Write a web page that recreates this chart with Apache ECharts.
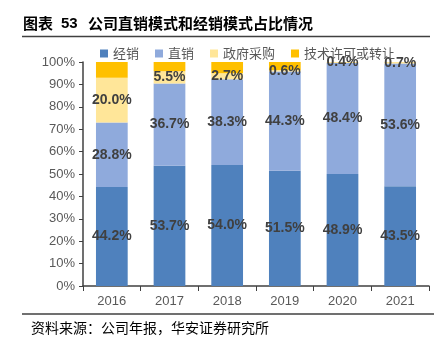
<!DOCTYPE html>
<html><head><meta charset="utf-8">
<script src="https://cdn.jsdelivr.net/npm/echarts@6/dist/echarts.min.js"></script>
<style>html,body{margin:0;padding:0;background:#fff}#c{width:434px;height:341px}</style>
</head><body><div id="c"></div>
<script>
const years = ['2016','2017','2018','2019','2020','2021'];
const distribution = [44.2, 53.7, 54.0, 51.5, 48.9, 43.5];   // 经销
const direct = [28.8, 36.7, 38.3, 44.3, 48.4, 53.6];         // 直销
const government = [20.0, 5.5, 2.7, 0.6, 0.4, 0.7];         // 政府采购
const licensing = [7.0, 4.1, 5.0, 3.6, 0, 0];                // 技术许可或转让
const yTicks = ['0%','10%','20%','30%','40%','50%','60%','70%','80%','90%','100%'];

const totals = years.map((_, i) => distribution[i] + direct[i] + government[i] + licensing[i]);
const norm = arr => arr.map((v, i) => ({ value: v / totals[i] * 100, raw: v }));

const labelStyle = {
  show: true, position: 'inside', fontFamily: 'Liberation Sans, Arial, sans-serif',
  fontSize: 14, fontWeight: 'bold', color: '#404040',
  formatter: p => p.data.raw.toFixed(1) + '%'
};
const mk = (name, arr, color, showLabel) => ({
  name, type: 'bar', stack: 'a', barWidth: '55%', data: norm(arr),
  itemStyle: { color }, label: showLabel ? labelStyle : { show: false },
  emphasis: { disabled: true }, labelLayout: { hideOverlap: false }
});

const titleFont = 'bold 15px "Noto Sans CJK SC", sans-serif';
const chart = echarts.init(document.getElementById('c'), null, { renderer: 'canvas' });
chart.setOption({
  animation: false,
  graphic: [
    { type: 'text', left: 23, top: 16, style: { text: '图表', font: titleFont, fill: '#000' } },
    { type: 'text', left: 61, top: 16, style: { text: '53', font: 'bold 15px "Liberation Sans", Arial, sans-serif', fill: '#000' } },
    { type: 'text', left: 88, top: 16, style: { text: '公司直销模式和经销模式占比情况', font: titleFont, fill: '#000' } },
    { type: 'line', shape: { x1: 22, y1: 36.5, x2: 430, y2: 36.5 }, style: { stroke: '#404040', lineWidth: 1.5 } },
    { type: 'line', shape: { x1: 22, y1: 314, x2: 434, y2: 314 }, style: { stroke: '#404040', lineWidth: 1.5 } },
    { type: 'text', left: 31, top: 321, style: { text: '资料来源：公司年报，华安证券研究所', font: '14px "Noto Sans CJK SC", sans-serif', fill: '#000' } }
  ],
  legend: {
    top: 42, left: 95, itemWidth: 8, itemHeight: 8, itemGap: 16, icon: 'rect',
    textStyle: { fontFamily: '"Noto Sans CJK SC", sans-serif', fontSize: 13, color: '#595959' },
    data: ['经销', '直销', '政府采购', '技术许可或转让']
  },
  grid: { left: 83, right: 5, top: 62, bottom: 55, containLabel: false },
  xAxis: {
    type: 'category', data: years,
    axisLine: { lineStyle: { color: '#404040', width: 1.5 } },
    axisTick: { show: true, length: 5, lineStyle: { color: '#404040' } },
    axisLabel: { fontFamily: 'Liberation Sans, Arial, sans-serif', fontSize: 13, color: '#595959', margin: 9 }
  },
  yAxis: {
    type: 'value', min: 0, max: 100, interval: 10,
    axisLine: { show: true, lineStyle: { color: '#404040', width: 1.5 } },
    axisTick: { show: true, length: 4, lineStyle: { color: '#404040' } },
    splitLine: { show: false },
    axisLabel: { fontFamily: 'Liberation Sans, Arial, sans-serif', fontSize: 13, color: '#595959', margin: 8,
      formatter: v => yTicks[Math.round(v / 10)] }
  },
  series: [
    mk('经销', distribution, '#4F81BD', true),
    mk('直销', direct, '#8FAADC', true),
    mk('政府采购', government, '#FFE699', true),
    mk('技术许可或转让', licensing, '#FFC000', false)
  ]
});
</script></body></html>
